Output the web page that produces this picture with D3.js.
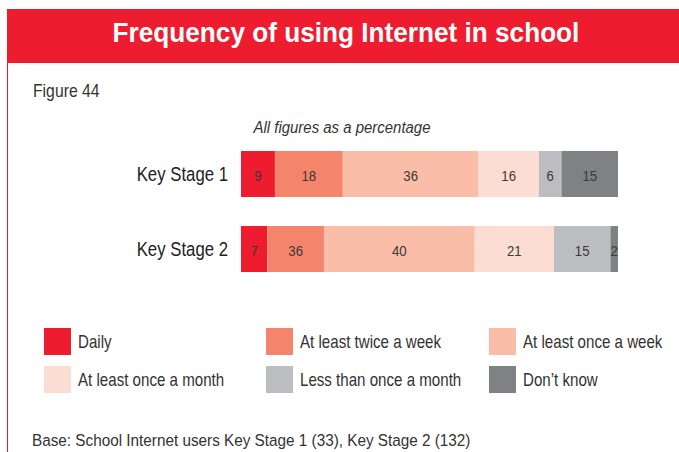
<!DOCTYPE html>
<html>
<head>
<meta charset="utf-8">
<script src="https://cdn.jsdelivr.net/npm/d3@7"></script>
<style>
  body { margin: 0; background: #fff; }
  svg text { font-family: "Liberation Sans", Arial, sans-serif; }
</style>
</head>
<body>
<script>
const stages = ["Key Stage 1", "Key Stage 2"];
const categories = ["Daily", "At least twice a week", "At least once a week",
  "At least once a month", "Less than once a month", "Don\u2019t know"];
const colors = ["#ed1c2e", "#f4846a", "#f9bda8", "#fcddd3", "#bcbdc0", "#808183"];
// bar widths as drawn
const values = [
  [9, 18, 36, 16, 6, 15],
  [7, 15, 40, 21, 15, 2]
];
// numbers as printed on the bars (the 36 on KS2 is what the original says)
const labels = [
  ["9", "18", "36", "16", "6", "15"],
  ["7", "36", "40", "21", "15", "2"]
];

const width = 679, height = 452;

const svg = d3.select("body").append("svg")
  .attr("width", width)
  .attr("height", height);

// the original uses a narrow face, so squeeze the text sideways
const narrow = (sel, x, y, s) =>
  sel.attr("transform", `translate(${x},${y}) scale(${s},1)`);

// title band + left border
svg.append("rect")
  .attr("x", 7).attr("y", 9)
  .attr("width", width - 7).attr("height", 54)
  .attr("fill", "#ed1c2e");
svg.append("line")
  .attr("x1", 7.5).attr("x2", 7.5)
  .attr("y1", 63).attr("y2", height)
  .attr("stroke", "#ed1c2e").attr("stroke-width", 1);

svg.append("text")
  .call(narrow, 346, 42, 0.97)
  .attr("text-anchor", "middle")
  .attr("fill", "#fff")
  .attr("font-size", 27)
  .attr("font-weight", "bold")
  .text("Frequency of using Internet in school");

svg.append("text")
  .call(narrow, 33, 97, 0.83)
  .attr("font-size", 19)
  .attr("fill", "#333")
  .text("Figure 44");

svg.append("text")
  .call(narrow, 342, 133, 0.88)
  .attr("text-anchor", "middle")
  .attr("font-size", 17)
  .attr("font-style", "italic")
  .attr("fill", "#333")
  .text("All figures as a percentage");

const x = d3.scaleLinear().domain([0, 100]).range([241, 618]);
const y = d3.scaleBand().domain(stages).range([151, 272]).paddingInner(0.387);

const rows = stages.map((s, i) => {
  let acc = 0;
  return values[i].map((v, j) => {
    const d = {stage: s, cat: j, x0: acc, x1: acc + v, label: labels[i][j]};
    acc += v;
    return d;
  });
});

const g = svg.append("g").selectAll("g")
  .data(rows)
  .join("g");

g.selectAll("rect")
  .data((d) => d)
  .join("rect")
  .attr("x", (d) => x(d.x0))
  .attr("y", (d) => y(d.stage))
  .attr("width", (d) => x(d.x1) - x(d.x0))
  .attr("height", y.bandwidth())
  .attr("fill", (d) => colors[d.cat]);

g.selectAll("text")
  .data((d) => d)
  .join("text")
  .each(function (d) {
    d3.select(this).call(narrow, (x(d.x0) + x(d.x1)) / 2, y(d.stage) + y.bandwidth() / 2 + 7, 0.88);
  })
  .attr("text-anchor", "middle")
  .attr("font-size", 15)
  .attr("fill", "#3a3a3a")
  .text((d) => d.label);

svg.append("g").selectAll("text")
  .data(stages)
  .join("text")
  .each(function (d) {
    d3.select(this).call(narrow, 228, y(d) + y.bandwidth() / 2 + 7, 0.86);
  })
  .attr("text-anchor", "end")
  .attr("font-size", 19.5)
  .attr("fill", "#222")
  .text((d) => d);

// legend, 3 columns x 2 rows
const colX = [44, 266, 489];
const rowY = [328, 366];
const leg = svg.append("g").selectAll("g")
  .data(categories)
  .join("g")
  .attr("transform", (d, i) => `translate(${colX[i % 3]},${rowY[Math.floor(i / 3)]})`);

leg.append("rect")
  .attr("width", 27).attr("height", 27)
  .attr("fill", (d, i) => colors[i]);
leg.append("text")
  .call(narrow, 34, 20, 0.84)
  .attr("font-size", 18)
  .attr("fill", "#333")
  .text((d) => d);

svg.append("text")
  .call(narrow, 32, 446, 0.9)
  .attr("font-size", 17)
  .attr("fill", "#333")
  .text("Base: School Internet users Key Stage 1 (33), Key Stage 2 (132)");
</script>
</body>
</html>
